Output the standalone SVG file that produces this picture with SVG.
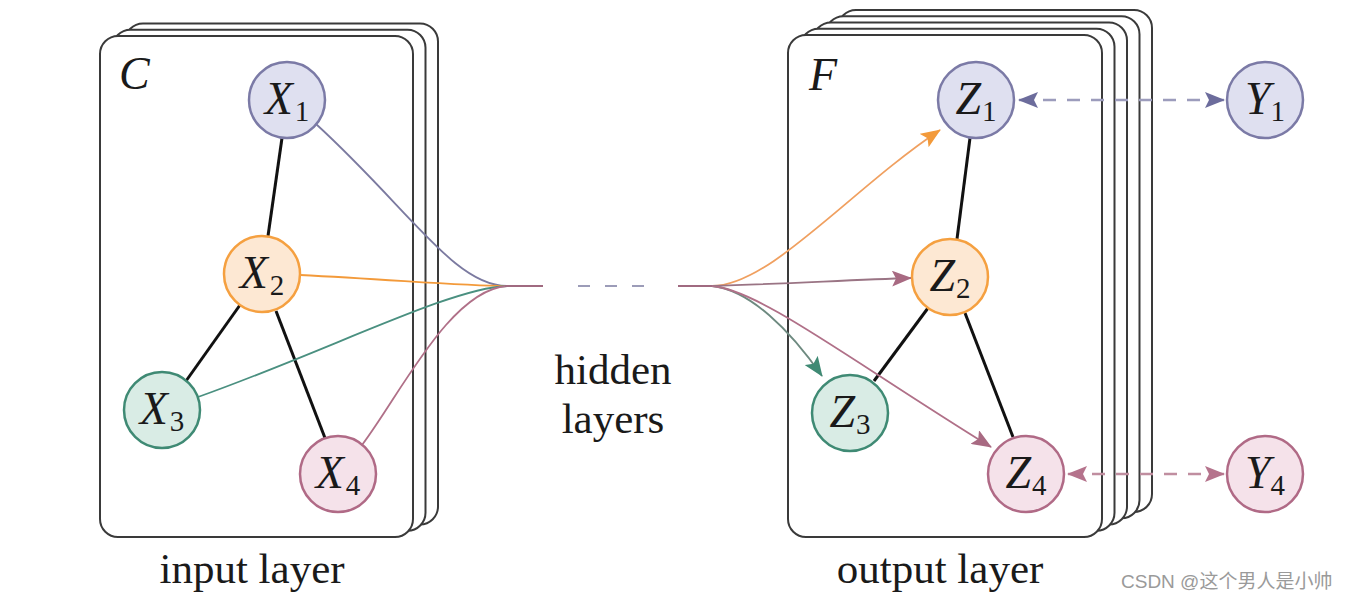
<svg xmlns="http://www.w3.org/2000/svg" width="1346" height="604" viewBox="0 0 1346 604">
<style>
.card{fill:#ffffff;stroke:#3a3a3a;stroke-width:2}
.edge{stroke:#111;stroke-width:3;fill:none}
.lbl{font-family:"Liberation Serif","Times New Roman",serif;fill:#1a1a1a}
.math{font-family:"Liberation Serif","Times New Roman",serif;fill:#1a1a1a;font-size:46px}
.sub{font-size:29px;font-style:normal}
.c-lav{fill:#dfe0f0;stroke:#7b7aa6;stroke-width:2.5}
.c-org{fill:#fde8d3;stroke:#f5a040;stroke-width:2.5}
.c-teal{fill:#d9ece5;stroke:#3f8a74;stroke-width:2.5}
.c-mauve{fill:#f5e2ea;stroke:#b06a86;stroke-width:2.5}
.conn{fill:none;stroke-width:1.8}
</style>
<defs>
<marker id="ah-org" viewBox="0 0 20 16" refX="19" refY="8" markerWidth="20" markerHeight="16" markerUnits="userSpaceOnUse" orient="auto-start-reverse"><path d="M0,0 L20,8 L0,16 L4,8 z" fill="#f39a3a"/></marker>
<marker id="ah-mauve" viewBox="0 0 20 16" refX="19" refY="8" markerWidth="20" markerHeight="16" markerUnits="userSpaceOnUse" orient="auto-start-reverse"><path d="M0,0 L20,8 L0,16 L4,8 z" fill="#a86a82"/></marker>
<marker id="ah-teal" viewBox="0 0 20 16" refX="19" refY="8" markerWidth="20" markerHeight="16" markerUnits="userSpaceOnUse" orient="auto-start-reverse"><path d="M0,0 L20,8 L0,16 L4,8 z" fill="#3f8a74"/></marker>
<marker id="ah-lav" viewBox="0 0 20 16" refX="19" refY="8" markerWidth="20" markerHeight="16" markerUnits="userSpaceOnUse" orient="auto-start-reverse"><path d="M0,0 L20,8 L0,16 L4,8 z" fill="#6c6c9c"/></marker>
<marker id="ah-pink" viewBox="0 0 20 16" refX="19" refY="8" markerWidth="20" markerHeight="16" markerUnits="userSpaceOnUse" orient="auto-start-reverse"><path d="M0,0 L20,8 L0,16 L4,8 z" fill="#b5738c"/></marker>
</defs>

<!-- Input card stack -->
<g id="input-stack">
<rect class="card" x="125" y="23.5" width="313" height="501" rx="18"/>
<rect class="card" x="112.5" y="29.75" width="313" height="501" rx="18"/>
<rect class="card" x="100" y="36" width="313" height="501" rx="18"/>
<text class="math" x="119" y="89" font-style="italic">C</text>
</g>

<!-- Output card stack -->
<g id="output-stack">
<rect class="card" x="838" y="10" width="314" height="502" rx="18"/>
<rect class="card" x="825.5" y="16.25" width="314" height="502" rx="18"/>
<rect class="card" x="813" y="22.5" width="314" height="502" rx="18"/>
<rect class="card" x="800.5" y="28.75" width="314" height="502" rx="18"/>
<rect class="card" x="788" y="35" width="314" height="502" rx="18"/>
<text class="math" x="809" y="90" font-style="italic">F</text>
</g>

<!-- Connectors -->
<g id="connectors">
<line class="edge" x1="282" y1="138" x2="268" y2="236"/>
<line class="edge" x1="240" y1="305" x2="186" y2="381"/>
<line class="edge" x1="276" y1="311" x2="325" y2="438"/>
<line class="edge" x1="970" y1="138" x2="957" y2="239"/>
<line class="edge" x1="928" y1="308" x2="874" y2="381"/>
<line class="edge" x1="965" y1="313" x2="1013" y2="437"/>

<path class="conn" stroke="#7b7aa0" d="M316,124 C410,210 455,286 507,286"/>
<path class="conn" stroke="#f39a3a" d="M300,275 C400,280 460,286 507,286"/>
<path class="conn" stroke="#4a9080" d="M198,397 C330,350 450,288 507,286"/>
<path class="conn" stroke="#b07088" d="M362,445 C400,395 450,290 507,286"/>
<line stroke="#a06a80" stroke-width="2" x1="505" y1="286" x2="543" y2="286"/>

<g stroke="#9c9cb8" stroke-width="2">
<line x1="578" y1="286" x2="590" y2="286"/>
<line x1="605" y1="286" x2="617" y2="286"/>
<line x1="632" y1="286" x2="644" y2="286"/>
</g>

<line stroke="#a06a80" stroke-width="2" x1="678" y1="286" x2="714" y2="286"/>
<path class="conn" stroke="#f0a060" d="M712,286 C770,286 850,190 940,130" marker-end="url(#ah-org)"/>
<path class="conn" stroke="#9a7484" d="M712,286 C780,284 850,280 911,278" marker-end="url(#ah-mauve)"/>
<path class="conn" stroke="#6e8a80" d="M712,286 C750,290 790,330 822,376" marker-end="url(#ah-teal)"/>
<path class="conn" stroke="#b07088" d="M712,286 C760,290 850,360 991,447" marker-end="url(#ah-mauve)"/>

<line stroke="#9c9cbc" stroke-width="2.5" stroke-dasharray="13,11" x1="1019" y1="100" x2="1224" y2="100" marker-start="url(#ah-lav)" marker-end="url(#ah-lav)"/>
<line stroke="#c08ea0" stroke-width="2.5" stroke-dasharray="13,11" x1="1068" y1="474" x2="1224" y2="474" marker-start="url(#ah-pink)" marker-end="url(#ah-pink)"/>
</g>

<!-- Nodes -->
<g id="X1"><circle class="c-lav" cx="287" cy="100" r="38"/><text class="math" x="287" y="114" text-anchor="middle"><tspan font-style="italic">X</tspan><tspan class="sub" dy="7" dx="2">1</tspan></text></g>
<g id="X2"><circle class="c-org" cx="262" cy="274" r="38"/><text class="math" x="262" y="288" text-anchor="middle"><tspan font-style="italic">X</tspan><tspan class="sub" dy="7" dx="2">2</tspan></text></g>
<g id="X3"><circle class="c-teal" cx="162" cy="410" r="38"/><text class="math" x="162" y="424" text-anchor="middle"><tspan font-style="italic">X</tspan><tspan class="sub" dy="7" dx="2">3</tspan></text></g>
<g id="X4"><circle class="c-mauve" cx="338" cy="474" r="38"/><text class="math" x="338" y="488" text-anchor="middle"><tspan font-style="italic">X</tspan><tspan class="sub" dy="7" dx="2">4</tspan></text></g>

<g id="Z1"><circle class="c-lav" cx="976" cy="100" r="38"/><text class="math" x="976" y="114" text-anchor="middle"><tspan font-style="italic">Z</tspan><tspan class="sub" dy="7" dx="1">1</tspan></text></g>
<g id="Z2"><circle class="c-org" cx="950" cy="277" r="38"/><text class="math" x="950" y="291" text-anchor="middle"><tspan font-style="italic">Z</tspan><tspan class="sub" dy="7" dx="1">2</tspan></text></g>
<g id="Z3"><circle class="c-teal" cx="850" cy="413" r="38"/><text class="math" x="850" y="427" text-anchor="middle"><tspan font-style="italic">Z</tspan><tspan class="sub" dy="7" dx="1">3</tspan></text></g>
<g id="Z4"><circle class="c-mauve" cx="1026" cy="474" r="38"/><text class="math" x="1026" y="488" text-anchor="middle"><tspan font-style="italic">Z</tspan><tspan class="sub" dy="7" dx="1">4</tspan></text></g>

<g id="Y1"><circle class="c-lav" cx="1265" cy="100" r="38"/><text class="math" x="1265" y="114" text-anchor="middle"><tspan font-style="italic">Y</tspan><tspan class="sub" dy="7">1</tspan></text></g>
<g id="Y4"><circle class="c-mauve" cx="1265" cy="474" r="38"/><text class="math" x="1265" y="488" text-anchor="middle"><tspan font-style="italic">Y</tspan><tspan class="sub" dy="7">4</tspan></text></g>

<!-- Labels -->
<g id="labels">
<text class="lbl" x="613" y="384" font-size="43" text-anchor="middle">hidden</text>
<text class="lbl" x="613" y="433" font-size="43" text-anchor="middle">layers</text>
<text class="lbl" x="252" y="583" font-size="43" text-anchor="middle">input layer</text>
<text class="lbl" x="940" y="583" font-size="43" text-anchor="middle">output layer</text>
<text x="1121" y="588" font-size="19" fill="#9a9a9a" font-family="'Liberation Sans','Noto Sans CJK SC',sans-serif">CSDN @这个男人是小帅</text>
</g>
</svg>
